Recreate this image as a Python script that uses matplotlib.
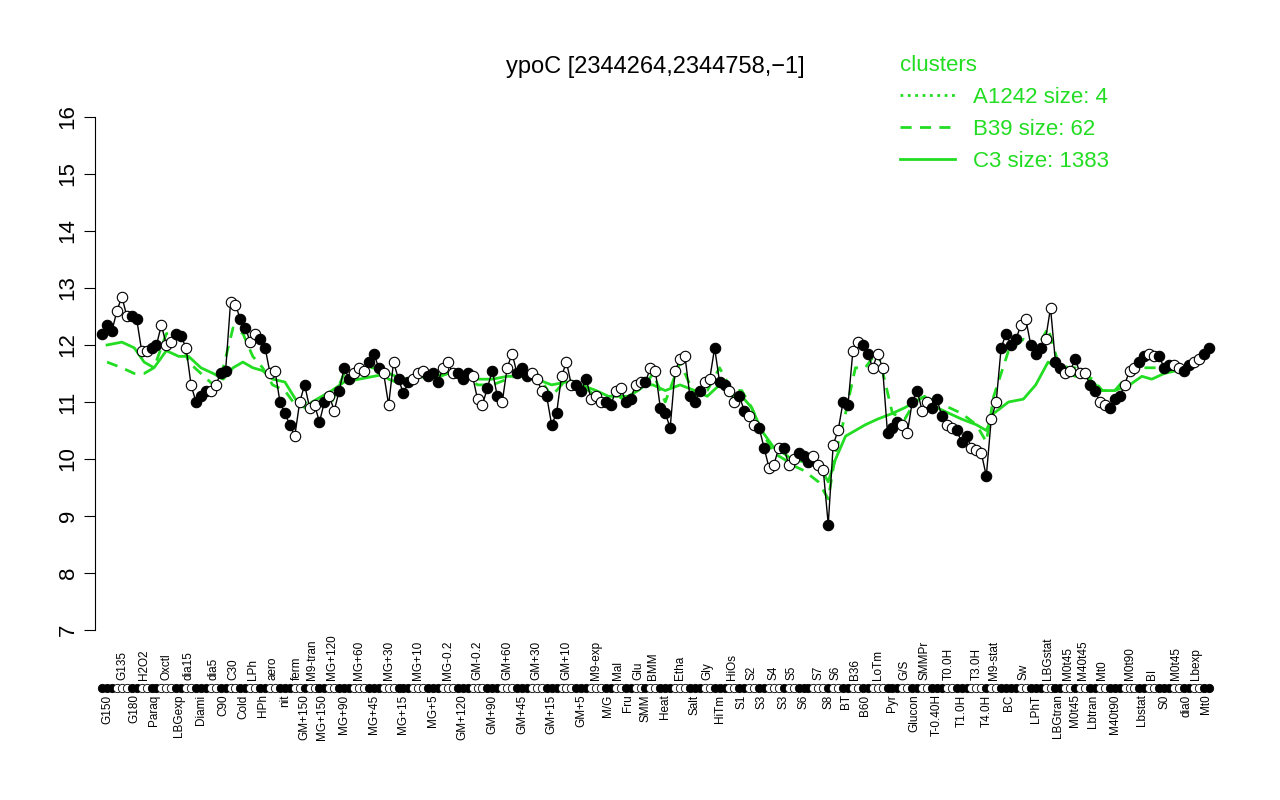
import matplotlib.pyplot as plt

plt.rcParams["font.family"] = ["Liberation Sans", "DejaVu Sans"]

# group labels, expression values per group, and cluster reference values per group
labels = ["G150", "G135", "G180", "H2O2", "Paraq", "Oxctl", "LBGexp", "dia15", "Diami", "dia5",
          "C90", "C30", "Cold", "LPh", "HPh", "aero", "nit", "ferm", "GM+150", "M9-tran",
          "MG+150", "MG+120", "MG+90", "MG+60", "MG+45", "MG+30", "MG+15", "MG+10", "MG+5", "MG-0.2",
          "GM+120", "GM-0.2", "GM+90", "GM+60", "GM+45", "GM+30", "GM+15", "GM+10", "GM+5", "M9-exp",
          "M/G", "Mal", "Fru", "Glu", "SMM", "BMM", "Heat", "Etha", "Salt", "Gly",
          "HiTm", "HiOs", "S1", "S2", "S3", "S4", "S3", "S5", "S6", "S7",
          "S8", "S6", "BT", "B36", "B60", "LoTm", "Pyr", "G/S", "Glucon", "SMMPr",
          "T-0.40H", "T0.0H", "T1.0H", "T3.0H", "T4.0H", "M9-stat", "BC", "Sw", "LPhT", "LBGstat",
          "LBGtran", "M0t45", "M0t45", "M40t45", "Lbtran", "Mt0", "M40t90", "M0t90", "Lbstat", "BI",
          "S0", "M0t45", "dia0", "Lbexp", "Mt0"]
values = [[12.2, 12.35, 12.25], [12.6, 12.85, 12.5], [12.5, 12.45], [11.9, 11.9], [11.95, 12.0],
          [12.35, 12.0, 12.05], [12.2, 12.15], [11.95, 11.3], [11.0, 11.1, 11.2], [11.2, 11.3],
          [11.5, 11.55], [12.75, 12.7], [12.45, 12.3], [12.05, 12.2], [12.1, 11.95],
          [11.5, 11.55], [11.0, 10.8, 10.6], [10.4, 11.0], [11.3], [10.9, 10.95],
          [10.65, 11.0], [11.1, 10.85], [11.2, 11.6, 11.4], [11.5, 11.6, 11.55], [11.7, 11.85, 11.6],
          [11.5, 10.95, 11.7], [11.4, 11.15, 11.35], [11.4, 11.5, 11.55], [11.45, 11.5, 11.35], [11.6, 11.7, 11.5],
          [11.5, 11.4, 11.5], [11.45, 11.05, 10.95], [11.25, 11.55, 11.1], [11.0, 11.6, 11.85], [11.5, 11.6, 11.45],
          [11.5, 11.4, 11.2], [11.1, 10.6, 10.8], [11.45, 11.7, 11.3], [11.3, 11.2, 11.4], [11.05, 11.1, 11.0],
          [11.0, 10.95], [11.2, 11.25], [11.0, 11.05], [11.3, 11.35], [11.35], [11.6, 11.55],
          [10.9, 10.8, 10.55], [11.55, 11.75, 11.8], [11.1, 11.0, 11.2], [11.35, 11.4],
          [11.95, 11.35, 11.3], [11.2, 11.0], [11.1, 10.85], [10.75, 10.6], [10.55, 10.2],
          [9.85, 9.9, 10.2], [10.2], [9.9, 10.0], [10.1, 10.05, 9.95], [10.05, 9.9, 9.8],
          [8.85], [10.25, 10.5], [11.0, 10.95], [11.9, 12.05], [12.0, 11.85],
          [11.6, 11.85, 11.6], [10.45, 10.55, 10.65], [10.6, 10.45], [11.0, 11.2], [10.85, 11.0],
          [10.9, 11.05, 10.75], [10.6, 10.55], [10.5, 10.3, 10.4], [10.2, 10.15, 10.1], [9.7],
          [10.7, 11.0], [11.95, 12.2, 12.0, 12.1], [12.35, 12.45], [12.0, 11.85, 11.95], [12.1, 12.65],
          [11.7, 11.6], [11.5, 11.55], [11.75], [11.5, 11.5], [11.3, 11.2],
          [11.0, 10.95], [10.9, 11.05, 11.1], [11.3, 11.55, 11.6], [11.7, 11.8], [11.85, 11.8],
          [11.8, 11.6, 11.65], [11.65, 11.6], [11.55, 11.65], [11.7, 11.75], [11.85, 11.95]]
c3 = [12.0, 12.05, 11.95, 11.7, 11.6, 11.9, 11.8, 11.8, 11.6, 11.5,
      11.4, 11.6, 11.7, 11.6, 11.55, 11.4, 11.35, 11.0, 10.9, 11.0,
      11.1, 11.2, 11.35, 11.4, 11.45, 11.5, 11.4, 11.45, 11.45, 11.5,
      11.45, 11.4, 11.4, 11.45, 11.45, 11.4, 11.3, 11.35, 11.3, 11.2,
      11.1, 11.1, 11.1, 11.2, 11.3, 11.3, 11.2, 11.3, 11.2, 11.1,
      11.3, 11.1, 11.1, 10.9, 10.5, 10.2, 10.1, 10.0, 9.95, 9.9,
      9.6, 10.0, 10.4, 10.5, 10.6, 10.7, 10.8, 10.9, 11.0, 11.1,
      10.9, 10.8, 10.7, 10.6, 10.5, 10.8, 11.0, 11.05, 11.3, 11.7,
      11.6, 11.5, 11.45, 11.5, 11.35, 11.2, 11.2, 11.3, 11.45, 11.4,
      11.5, 11.55, 11.6, 11.7, 11.8]
b39 = [11.7, 11.6, 11.5, 11.5, 11.6, 12.2, 12.2, 11.7, 11.5, 11.3,
       11.6, 12.3, 12.2, 11.8, 11.6, 11.3, 11.2, 10.9, 11.0, 10.9,
       10.95, 11.0, 11.5, 11.6, 11.6, 11.4, 11.3, 11.45, 11.4, 11.5,
       11.5, 11.3, 11.3, 11.4, 11.5, 11.5, 11.1, 11.4, 11.3, 11.1,
       11.0, 11.1, 11.0, 11.3, 11.3, 11.5, 11.0, 11.7, 11.1, 11.2,
       11.6, 11.2, 11.2, 10.9, 10.5, 10.1, 10.0, 9.9, 9.8, 9.6,
       9.3, 10.1, 10.8, 11.6, 11.6, 11.9, 10.8, 10.7, 11.0, 11.1,
       11.0, 10.9, 10.8, 10.6, 10.3, 11.1, 11.9, 12.1, 11.9, 12.3,
       11.7, 11.6, 11.6, 11.5, 11.4, 11.2, 11.2, 11.5, 11.6, 11.6,
       11.6, 11.6, 11.6, 11.7, 11.8]

green = "#22dd22"
fig = plt.figure(figsize=(12.8, 8), dpi=100)
ax = fig.add_axes([0.074, 0.2125, 0.876, 0.6413])

x = 0
centers = []
for i, (lab, vals) in enumerate(zip(labels, values)):
    xs = list(range(x, x + len(vals)))
    fc = "black" if i % 2 == 0 else "white"
    ax.plot(xs, vals, "o", ms=7.5, mfc=fc, mec="black", mew=0.8, zorder=4)
    ax.plot(xs, [5.98] * len(xs), "o", ms=6, mfc=fc, mec="black", mew=0.6, clip_on=False, zorder=4)
    xc = (xs[0] + xs[-1]) / 2
    centers.append(xc)
    if i % 2 == 0:
        ax.text(xc, 5.87, lab, rotation=90, ha="center", va="top", fontsize=8.5)
    else:
        ax.text(xc, 6.12, lab, rotation=90, ha="center", va="bottom", fontsize=8.5)
    x += len(vals)

ax.plot(centers, c3, color=green, lw=2, zorder=2)
ax.plot(centers, b39, color=green, lw=2, ls="--", dashes=(4, 3), zorder=2)

allv = [v for vals in values for v in vals]
ax.plot(range(len(allv)), allv, color="black", lw=1, zorder=3)

ax.set_xlim(-1.5, len(allv) + 0.5)
ax.set_ylim(7, 16)
for s in ["top", "right", "bottom"]:
    ax.spines[s].set_visible(False)
ax.set_xticks([])
ax.set_yticks(range(7, 17))
ax.set_yticklabels([str(v) for v in range(7, 17)], rotation=90, va="center", fontsize=16)
ax.tick_params(axis="y", length=8)
ax.set_title("ypoC [2344264,2344758,\u22121]", fontsize=17, pad=32)

leg = ax.legend(handles=[plt.Line2D([], [], color=green, lw=2, ls=":"),
                         plt.Line2D([], [], color=green, lw=2, ls="--", dashes=(4, 3)),
                         plt.Line2D([], [], color=green, lw=2)],
                labels=["A1242 size: 4", "B39 size: 62", "C3 size: 1383"],
                title="clusters", loc="upper left", bbox_to_anchor=(0.7, 1.16),
                frameon=False, fontsize=16, title_fontsize=16, handlelength=2.5, alignment="left")
for t in leg.get_texts():
    t.set_color(green)
leg.get_title().set_color(green)

fig.savefig("out.png")
